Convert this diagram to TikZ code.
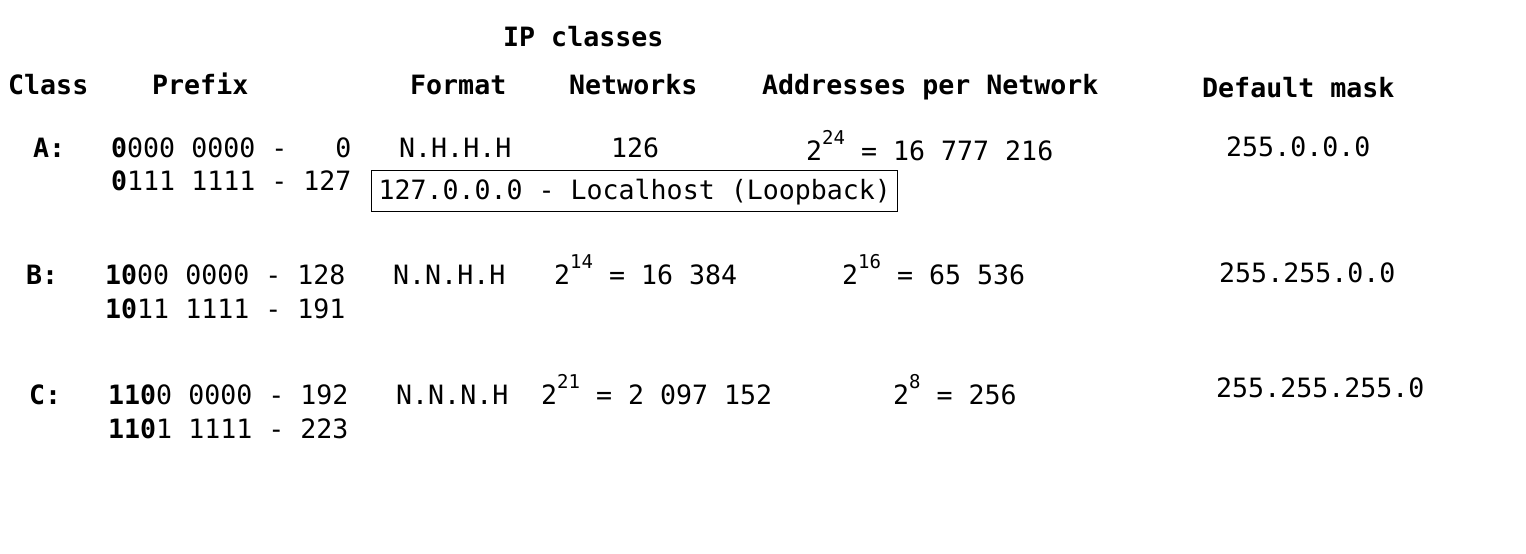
\documentclass[tikz,border=0pt]{standalone}
\usepackage{fontspec}
\setmainfont{DejaVu Sans Mono}
\usepackage{tikz}
\usetikzlibrary{positioning}
\frenchspacing
\newcommand{\pw}[1]{\raisebox{16pt}{\fontsize{19}{22}\selectfont #1}} % raised exponent
\tikzset{
    x=1pt, y=-1pt, % one unit is one pixel of the picture, y runs down
    txt/.style={anchor=base west, inner sep=0pt, font=\fontsize{26.6}{32}\selectfont}, % plain text of the table
    head/.style={txt, font=\fontsize{26.6}{32}\selectfont\bfseries}, % titles of the columns
    lobox/.style={txt, draw, line width=1pt, inner xsep=7pt, text height=29pt, text depth=12pt}, % the loopback box
}

\begin{document}
\begin{tikzpicture}
    \useasboundingbox (0,0) rectangle (1526,554);
    % titles
    \node[head] (title) at (503,46) {IP classes};
    \node[head] (hclass) at (8,94) {Class};
    \node[head] (hprefix) at (152,94) {Prefix};
    \node[head] (hformat) at (410,94) {Format};
    \node[head] (hnets) at (569,94) {Networks};
    \node[head] (haddr) at (762,94) {Addresses per Network};
    \node[head] (hmask) at (1202,97) {Default mask};
    % class A
    \node[head] (cA) at (33,157) {A:};
    \node[txt] (pA1) at (111,157) {\textbf{0}000 0000 -~~~0};
    \node[txt] (pA2) at (111,190) {\textbf{0}111 1111 - 127};
    \node[txt] (fA) at (399,157) {N.H.H.H};
    \node[txt] (nA) at (611,157) {126};
    \node[txt] (aA) at (806,160) {2\pw{24} = 16 777 216};
    \node[txt] (mA) at (1226,156) {255.0.0.0};
    \node[lobox] (lo) at (371,199) {127.0.0.0 - Localhost (Loopback)};
    % class B
    \node[head] (cB) at (26,284) {B:};
    \node[txt] (pB1) at (105,284) {\textbf{10}00 0000 - 128};
    \node[txt] (pB2) at (105,318) {\textbf{10}11 1111 - 191};
    \node[txt] (fB) at (393,284) {N.N.H.H};
    \node[txt] (nB) at (554,284) {2\pw{14} = 16 384};
    \node[txt] (aB) at (842,284) {2\pw{16} = 65 536};
    \node[txt] (mB) at (1219,282) {255.255.0.0};
    % class C
    \node[head] (cC) at (29,404) {C:};
    \node[txt] (pC1) at (108,404) {\textbf{110}0 0000 - 192};
    \node[txt] (pC2) at (108,438) {\textbf{110}1 1111 - 223};
    \node[txt] (fC) at (396,404) {N.N.N.H};
    \node[txt] (nC) at (541,404) {2\pw{21} = 2 097 152};
    \node[txt] (aC) at (893,404) {2\pw{8} = 256};
    \node[txt] (mC) at (1216,397) {255.255.255.0};
\end{tikzpicture}
\end{document}
